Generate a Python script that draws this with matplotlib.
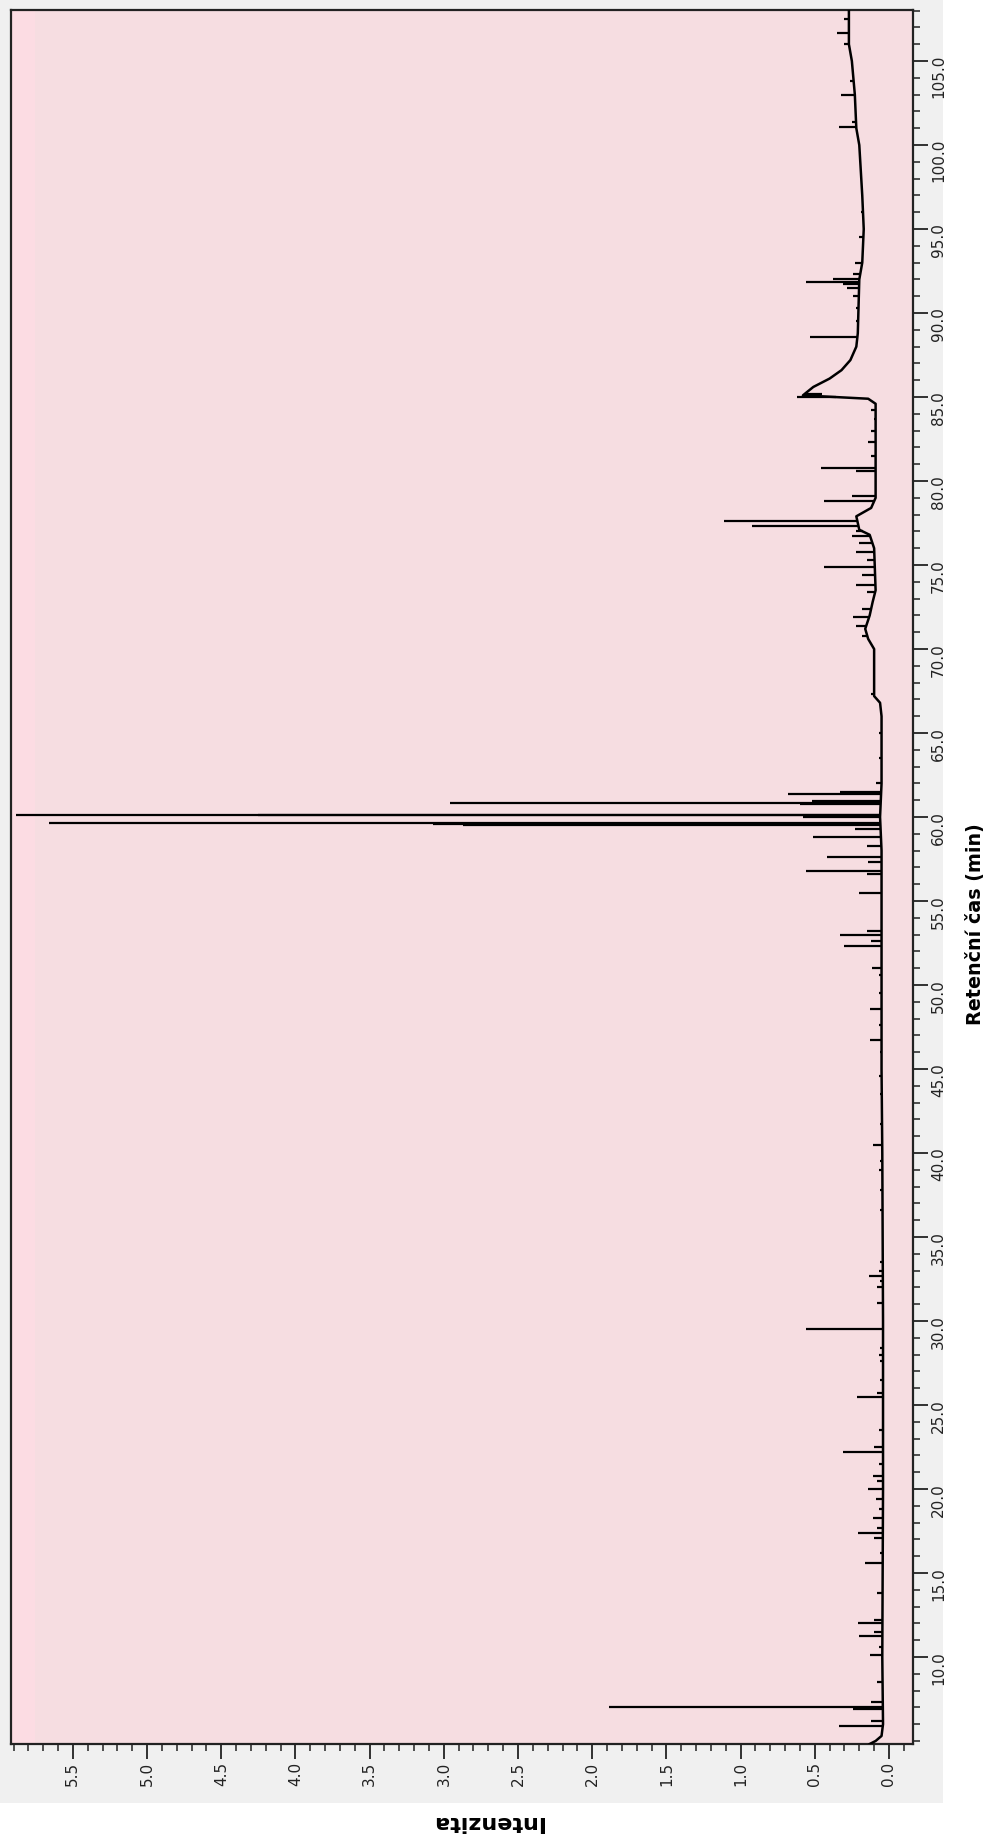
import numpy as np
import matplotlib
matplotlib.use("Agg")
import matplotlib.pyplot as plt
from matplotlib.patches import Rectangle
from matplotlib.ticker import MultipleLocator, FormatStrFormatter

plt.rcParams['font.family'] = ['DejaVu Sans']

# baseline of the chromatogram: retention time (min), intensity
base_t = [4.82, 5.0, 5.3, 6.0, 10.0, 20.0, 30.0, 40.0, 45.0, 50.0, 55.0, 58.0, 60.0, 62.0,
          66.0, 66.8, 67.2, 70.0, 70.6, 71.2, 72.0, 72.8, 73.5, 76.0, 76.8, 77.1, 77.9, 78.4,
          79.0, 84.6, 84.9, 85.1, 85.6, 86.1, 86.6, 87.2, 88.0, 88.8, 92.0, 93.0, 95.0, 97.0,
          100.0, 101.0, 103.0, 105.0, 106.0, 108.04]
base_i = [0.13, 0.09, 0.05, 0.04, 0.045, 0.04, 0.04, 0.045, 0.05, 0.05, 0.05, 0.05, 0.06, 0.05,
          0.05, 0.06, 0.10, 0.10, 0.14, 0.16, 0.13, 0.11, 0.09, 0.10, 0.13, 0.20, 0.22, 0.12,
          0.09, 0.09, 0.14, 0.58, 0.51, 0.40, 0.32, 0.26, 0.22, 0.21, 0.20, 0.18, 0.17, 0.18,
          0.20, 0.22, 0.23, 0.25, 0.27, 0.27]

# peaks: retention time (min), apex intensity
peak_t = [5.9, 6.2, 6.9, 7.0, 7.3, 8.5, 10.1, 10.6, 11.25, 11.5, 12.0, 12.2, 13.8, 15.6, 16.2,
          17.1, 17.4, 17.7, 18.3, 18.8, 19.4, 20.0, 20.5, 20.8, 21.5, 22.2, 22.5, 23.5, 25.5,
          25.7, 26.5, 27.6, 28.0, 28.4, 29.5, 31.1, 32.0, 32.4, 32.7, 33.0, 33.5, 36.6, 37.8,
          39.0, 39.5, 40.5, 41.7, 43.5, 44.6, 46.0, 46.7, 47.6, 48.6, 49.5, 50.6, 51.0, 52.3,
          52.6, 53.0, 53.2, 55.5, 56.6, 56.8, 57.3, 57.6, 58.3, 58.8, 59.3, 59.5, 59.6, 59.65,
          60.0, 60.1, 60.15, 60.75, 60.85, 60.95, 61.4, 61.5, 62.0, 63.5, 65.0, 67.3, 69.0, 70.8,
          71.4, 71.9, 72.4, 73.4, 73.8, 74.4, 74.9, 75.3, 75.8, 76.3, 76.7, 77.0, 77.35, 77.6,
          78.8, 79.1, 80.6, 80.8, 81.5, 82.3, 83.0, 83.7, 84.2, 85.0, 85.2, 88.6, 89.5, 90.3,
          91.0, 91.5, 91.75, 91.85, 92.0, 92.3, 93.0, 94.5, 96.0, 98.0, 101.1, 101.4, 103.0,
          103.8, 106.0, 106.7, 107.5]
peak_i = [0.34, 0.12, 0.24, 1.89, 0.12, 0.08, 0.13, 0.07, 0.20, 0.10, 0.21, 0.10, 0.08, 0.16, 0.06,
          0.10, 0.21, 0.08, 0.11, 0.07, 0.09, 0.14, 0.08, 0.11, 0.07, 0.31, 0.10, 0.07, 0.215,
          0.08, 0.06, 0.06, 0.07, 0.06, 0.56, 0.08, 0.08, 0.06, 0.135, 0.07, 0.06, 0.06, 0.06,
          0.07, 0.06, 0.11, 0.06, 0.06, 0.07, 0.06, 0.13, 0.07, 0.13, 0.07, 0.07, 0.115, 0.30,
          0.12, 0.33, 0.15, 0.20, 0.15, 0.56, 0.14, 0.42, 0.15, 0.51, 0.23, 2.87, 3.07, 5.66,
          0.58, 4.25, 5.88, 0.60, 2.96, 0.52, 0.68, 0.33, 0.09, 0.07, 0.07, 0.12, 0.11, 0.18,
          0.22, 0.24, 0.18, 0.15, 0.22, 0.18, 0.44, 0.15, 0.22, 0.20, 0.25, 0.22, 0.92, 1.11,
          0.44, 0.25, 0.22, 0.46, 0.12, 0.14, 0.12, 0.10, 0.12, 0.62, 0.45, 0.53, 0.22, 0.22,
          0.24, 0.28, 0.31, 0.56, 0.38, 0.24, 0.23, 0.20, 0.19, 0.19, 0.34, 0.25, 0.32,
          0.26, 0.30, 0.35, 0.30]

x_ticks = [0.0, 0.5, 1.0, 1.5, 2.0, 2.5, 3.0, 3.5, 4.0, 4.5, 5.0, 5.5]
t_ticks = [10, 15, 20, 25, 30, 35, 40, 45, 50, 55, 60, 65, 70, 75, 80, 85, 90, 95, 100, 105]

W, H = 998, 1843
fig = plt.figure(figsize=(W / 100, H / 100), dpi=100)
fig.patch.set_facecolor('white')

# grey panel behind the chart
fig.patches.append(Rectangle((0, 1 - 1803 / H), 943 / W, 1803 / H,
                             transform=fig.transFigure, facecolor='#f0f0f0',
                             edgecolor='none', zorder=-5))

ax = fig.add_axes([11 / W, 1 - 1744 / H, (913 - 11) / W, (1744 - 10) / H])
ax.set_zorder(1)
ax.set_facecolor('#f6dde1')
ax.add_patch(Rectangle((0, 0), 24 / 902, 1, transform=ax.transAxes,
                       facecolor='#fcdce3', edgecolor='none', zorder=0))

ax.plot(base_i, base_t, color='black', lw=1.8, zorder=3)
p_base = np.interp(peak_t, base_t, base_i)
ax.hlines(peak_t, p_base, peak_i, color='black', lw=1.6, zorder=3)

ax.set_xlim(5.917, -0.162)
ax.set_ylim(4.82, 108.04)

ax.yaxis.tick_right()
ax.set_yticks(t_ticks)
ax.yaxis.set_minor_locator(MultipleLocator(1))
ax.yaxis.set_major_formatter(FormatStrFormatter('%.1f'))
ax.set_xticks(x_ticks)
ax.xaxis.set_minor_locator(MultipleLocator(0.1))
ax.xaxis.set_major_formatter(FormatStrFormatter('%.1f'))

ax.tick_params(which='major', length=11, width=1.3, labelsize=11, pad=2,
               labelrotation=90, color='#222222', labelcolor='#222222')
ax.tick_params(which='minor', length=5, width=1.1, color='#222222')
for lab in ax.get_xticklabels():
    lab.set_va('top')
for s in ax.spines.values():
    s.set_linewidth(1.6)
    s.set_color('#222222')

fig.text(487 / W, 1 - 1822 / H, 'Intenzita', rotation=180, ha='center', va='center',
         fontsize=16, fontweight='bold')
fig.text(976 / W, 1 - 924 / H, 'Retenční čas (min)', rotation=90, ha='center', va='center',
         fontsize=13.8, fontweight='bold')

fig.savefig('out.png', dpi=100)
